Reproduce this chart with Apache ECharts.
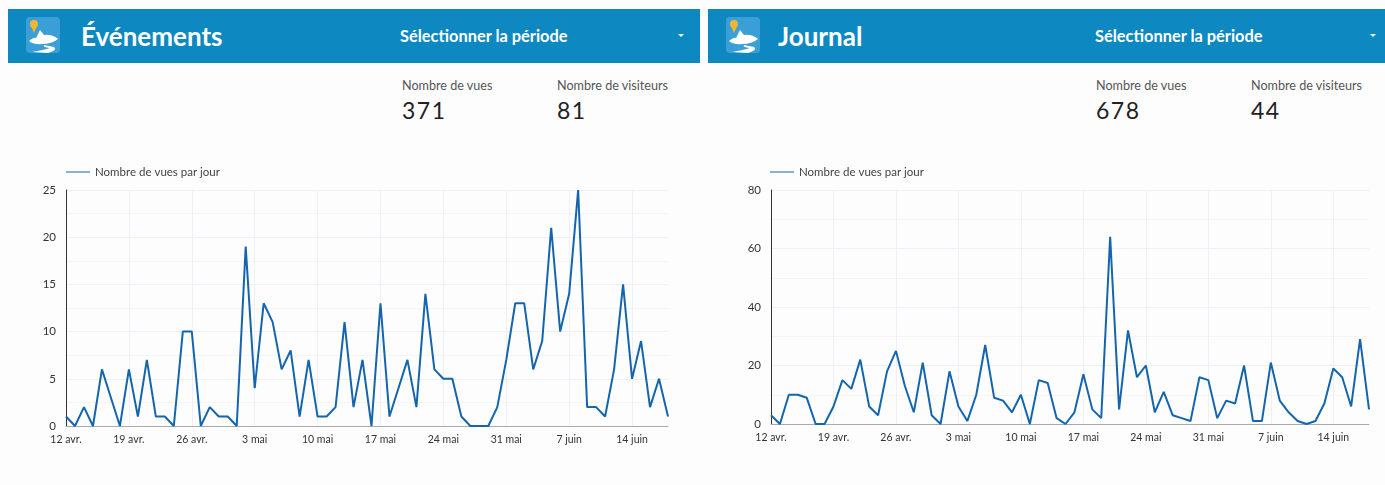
<!DOCTYPE html>
<html lang="fr">
<head>
<meta charset="utf-8">
<title>Statistiques</title>
<script src="https://cdn.jsdelivr.net/npm/echarts@6/dist/echarts.min.js"></script>
<style>
    html, body { margin: 0; padding: 0; background: #fdfdfe; }
    body { width: 1385px; height: 485px; position: relative; overflow: hidden; font-family: Lato, sans-serif; }
    .bar { position: absolute; top: 9px; height: 54px; background: #0d88c1; color: #fff; }
    .bar svg { position: absolute; left: 18px; top: 8px; }
    .bar .name { position: absolute; top: 10px; font-size: 26px; font-weight: 700; line-height: 34px; }
    .bar .period { position: absolute; top: 17px; font-size: 16.4px; font-weight: 700; line-height: 20px; }
    .bar .arrow { position: absolute; top: 25px; width: 0; height: 0; border-left: 3px solid transparent; border-right: 3px solid transparent; border-top: 3px solid #fff; }
    .stat { position: absolute; top: 79px; color: #555; font-size: 12.6px; line-height: 14px; white-space: nowrap; }
    .stat b { display: block; font-weight: 400; font-size: 23px; line-height: 28px; margin-top: 3px; color: #222; letter-spacing: 1.5px; }
    .chart { position: absolute; top: 0; height: 485px; }
</style>
</head>
<body>
<div class="bar" style="left:8px;width:692px">
    <svg width="36" height="38" viewBox="0 0 36 38"><use href="#logo"/></svg>
    <div class="name" style="left:73px">Événements</div>
    <div class="period" style="left:392px">Sélectionner la période</div>
    <div class="arrow" style="left:670px"></div>
</div>
<div class="bar" style="left:708px;width:677px">
    <svg width="36" height="38" viewBox="0 0 36 38">
        <defs>
            <g id="logo">
                <rect x="0" y="0" width="34" height="36" rx="4" fill="#3a9fd6"/>
                <path d="M3 24 Q8 20 10 21 L14 13 L18 18 Q26 17 32 22 Q26 27 16 27 Q8 28 3 24Z" fill="#fff"/>
                <path d="M6 35 Q18 33 24 31 Q16 30 18 28 L28 30 Q32 33 22 36Z" fill="#fff"/>
                <circle cx="8" cy="7" r="4" fill="#f2b632"/>
                <path d="M5 9 L8 16 L11 9Z" fill="#f2b632"/>
            </g>
        </defs>
        <use href="#logo"/>
    </svg>
    <div class="name" style="left:70px">Journal</div>
    <div class="period" style="left:387px">Sélectionner la période</div>
    <div class="arrow" style="left:662px"></div>
</div>

<div class="stat" style="left:402px">Nombre de vues<b>371</b></div>
<div class="stat" style="left:557px">Nombre de visiteurs<b>81</b></div>
<div class="stat" style="left:1096px">Nombre de vues<b>678</b></div>
<div class="stat" style="left:1251px">Nombre de visiteurs<b>44</b></div>

<div class="chart" id="chart-events" style="left:0;width:700px"></div>
<div class="chart" id="chart-journal" style="left:700px;width:685px"></div>

<script>
const days = [
    '12 avr.', '13 avr.', '14 avr.', '15 avr.', '16 avr.', '17 avr.', '18 avr.',
    '19 avr.', '20 avr.', '21 avr.', '22 avr.', '23 avr.', '24 avr.', '25 avr.',
    '26 avr.', '27 avr.', '28 avr.', '29 avr.', '30 avr.', '1 mai', '2 mai',
    '3 mai', '4 mai', '5 mai', '6 mai', '7 mai', '8 mai', '9 mai',
    '10 mai', '11 mai', '12 mai', '13 mai', '14 mai', '15 mai', '16 mai',
    '17 mai', '18 mai', '19 mai', '20 mai', '21 mai', '22 mai', '23 mai',
    '24 mai', '25 mai', '26 mai', '27 mai', '28 mai', '29 mai', '30 mai',
    '31 mai', '1 juin', '2 juin', '3 juin', '4 juin', '5 juin', '6 juin',
    '7 juin', '8 juin', '9 juin', '10 juin', '11 juin', '12 juin', '13 juin',
    '14 juin', '15 juin', '16 juin', '17 juin', '18 juin'
];
const eventViews = [
    1, 0, 2, 0, 6, 3, 0,
    6, 1, 7, 1, 1, 0, 10,
    10, 0, 2, 1, 1, 0, 19,
    4, 13, 11, 6, 8, 1, 7,
    1, 1, 2, 11, 2, 7, 0,
    13, 1, 4, 7, 2, 14, 6,
    5, 5, 1, 0, 0, 0, 2,
    7, 13, 13, 6, 9, 21, 10,
    14, 25, 2, 2, 1, 6, 15,
    5, 9, 2, 5, 1
];
const journalViews = [
    3, 0, 10, 10, 9, 0, 0,
    6, 15, 12, 22, 6, 3, 18,
    25, 13, 4, 21, 3, 0, 18,
    6, 1, 10, 27, 9, 8, 4,
    10, 0, 15, 14, 2, 0, 4,
    17, 5, 2, 64, 5, 32, 16,
    20, 4, 11, 3, 2, 1, 16,
    15, 2, 8, 7, 20, 1, 1,
    21, 8, 4, 1, 0, 1, 7,
    19, 16, 6, 29, 5
];
const seriesName = 'Nombre de vues par jour';

// un graphique par panneau
const drawPanel = (id, values, yMax, yStep, left, width, top, height, legendLeft) => {
    const myChart = echarts.init(document.getElementById(id));
    myChart.setOption({
        animation: false,
        legend: {
            data: [seriesName],
            left: legendLeft,
            top: 161,
            itemWidth: 24,
            itemHeight: 1,
            itemGap: 5,
            icon: 'rect',
            textStyle: { fontFamily: 'Lato', fontSize: 11.5, color: '#444' }
        },
        grid: { left: left, top: top, width: width, height: height },
        xAxis: {
            type: 'category',
            boundaryGap: false,
            data: days,
            axisLine: { lineStyle: { color: '#aaa' } },
            axisTick: { show: false },
            axisLabel: { interval: 6, margin: 8, fontFamily: 'Lato', fontSize: 10.5, color: '#333' },
            splitLine: { show: true, interval: 6, lineStyle: { color: '#eef0f6' } }
        },
        yAxis: {
            type: 'value',
            min: 0,
            max: yMax,
            interval: yStep,
            axisLine: { show: true, lineStyle: { color: '#333' } },
            axisTick: { show: false },
            axisLabel: { margin: 10, fontFamily: 'Lato', fontSize: 11.5, color: '#333' },
            splitLine: { lineStyle: { color: '#eef0f6' } },
            minorTick: { show: false, splitNumber: 2 },
            minorSplitLine: { show: true, lineStyle: { color: '#f4f5f9' } }
        },
        series: [{
            name: seriesName,
            type: 'line',
            data: values,
            symbol: 'none',
            lineStyle: { width: 2, color: '#1465ad' },
            itemStyle: { color: '#1465ad' }
        }]
    });
};

drawPanel('chart-events', eventViews, 25, 5, 66, 602, 190, 236, 61);
drawPanel('chart-journal', journalViews, 80, 20, 71, 598, 190, 234, 65);
</script>
</body>
</html>
